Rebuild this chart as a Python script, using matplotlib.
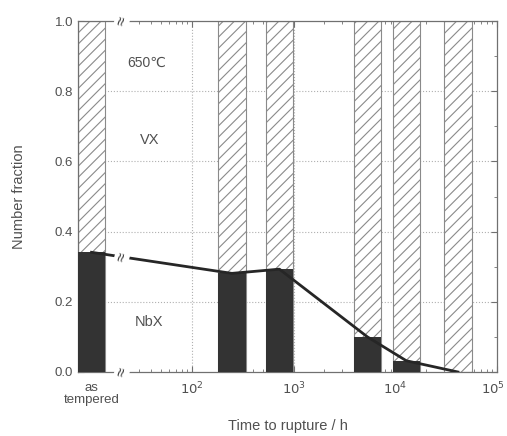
import numpy as np
import matplotlib.pyplot as plt
import matplotlib.transforms as mtransforms
from matplotlib.ticker import FixedLocator, NullFormatter

plt.rcParams['font.family'] = ['Liberation Sans', 'DejaVu Sans']
plt.rcParams['hatch.color'] = '#8a8a8a'
plt.rcParams['hatch.linewidth'] = 0.8

# data
rupture_time = [247, 725, 5320, 12850, 41300]   # h
nbx_fraction = [0.281, 0.293, 0.100, 0.032, 0.0]
as_tempered_nbx = 0.341

# "as tempered" sits left of the axis break
as_tempered_pos = 10 ** 1.012
break_pos = 10 ** 1.312
bar_w = 0.27   # width in decades

times = np.array([as_tempered_pos] + rupture_time)
nbx = np.array([as_tempered_nbx] + nbx_fraction)

txt = '#505050'
fig = plt.figure(figsize=(5.07, 4.36), dpi=100)
ax = fig.add_axes([0.1538, 0.1468, 0.8264, 0.805])
ax.set_xscale('log')
ax.set_xlim(10 ** 0.879, 1e5)
ax.set_ylim(0, 1.0)

logt = np.log10(times)
left = 10 ** (logt - bar_w / 2)
width = 10 ** (logt + bar_w / 2) - left

# VX part (hatched, full height) and NbX part (dark)
ax.bar(left, 1.0, width=width, align='edge', facecolor='white',
       edgecolor='#8a8a8a', hatch='///', lw=0.8, zorder=2)
ax.bar(left, nbx, width=width, align='edge', color='#333333', lw=0, zorder=3)
ax.plot(times, nbx, color='#262626', lw=2, zorder=4)

# grid
for yv in [0.2, 0.4, 0.6, 0.8]:
    ax.axhline(yv, color='#b0b0b0', ls=':', lw=0.8, zorder=1)
for xv in [1e2, 1e3, 1e4]:
    ax.axvline(xv, color='#b0b0b0', ls=':', lw=0.8, zorder=1)

# ticks
ax.set_xticks([1e2, 1e3, 1e4, 1e5])
ax.set_xticklabels(['$10^2$', '$10^3$', '$10^4$', '$10^5$'])
minors = [m * 10 ** d for d in range(1, 5) for m in range(2, 10) if m * 10 ** d >= 30]
ax.xaxis.set_minor_locator(FixedLocator(minors))
ax.xaxis.set_minor_formatter(NullFormatter())
ax.set_yticks(np.arange(0, 1.01, 0.2))
ax.set_yticklabels(['%.1f' % v for v in np.arange(0, 1.01, 0.2)])
ax.set_yticks(np.arange(0.1, 1.0, 0.2), minor=True)
ax.tick_params(which='both', direction='in', top=True, right=True,
               colors='#707070', labelcolor=txt, labelsize=9.5)
ax.tick_params(which='major', length=4)
ax.tick_params(which='minor', length=2.5)
ax.tick_params(axis='x', pad=6)
for s in ax.spines.values():
    s.set_color('#707070')
    s.set_linewidth(0.9)

# keep the last label inside the picture
last = ax.get_xticklabels()[-1]
last.set_transform(last.get_transform() +
                   mtransforms.ScaledTranslation(-4 / 100, 0, fig.dpi_scale_trans))

ax.text(as_tempered_pos, -0.028, 'as\ntempered', ha='center', va='top',
        color=txt, fontsize=9.5, linespacing=1.0,
        transform=ax.get_xaxis_transform())

# axis break marks
y_break = np.interp(np.log10(break_pos), logt[:2], nbx[:2])
for yb in [0.0, 1.0, y_break]:
    ax.text(break_pos, yb, '≈', rotation=75, ha='center', va='center',
            fontsize=12, color='#404040', zorder=6, clip_on=False,
            bbox=dict(boxstyle='square,pad=0.0', fc='white', ec='none'))

ax.text(0.165, 0.88, '650℃', transform=ax.transAxes, ha='center', va='center',
        color=txt, fontsize=10)
ax.text(0.172, 0.661, 'VX', transform=ax.transAxes, ha='center', va='center',
        color=txt, fontsize=10.5)
ax.text(0.169, 0.142, 'NbX', transform=ax.transAxes, ha='center', va='center',
        color=txt, fontsize=10.5)

ax.set_xlabel('Time to rupture / h', color=txt, fontsize=10.5)
ax.set_ylabel('Number fraction', color=txt, fontsize=10.5)
ax.xaxis.set_label_coords(0.5, -0.135)
ax.yaxis.set_label_coords(-0.125, 0.5)

fig.savefig('out.png', dpi=100)
